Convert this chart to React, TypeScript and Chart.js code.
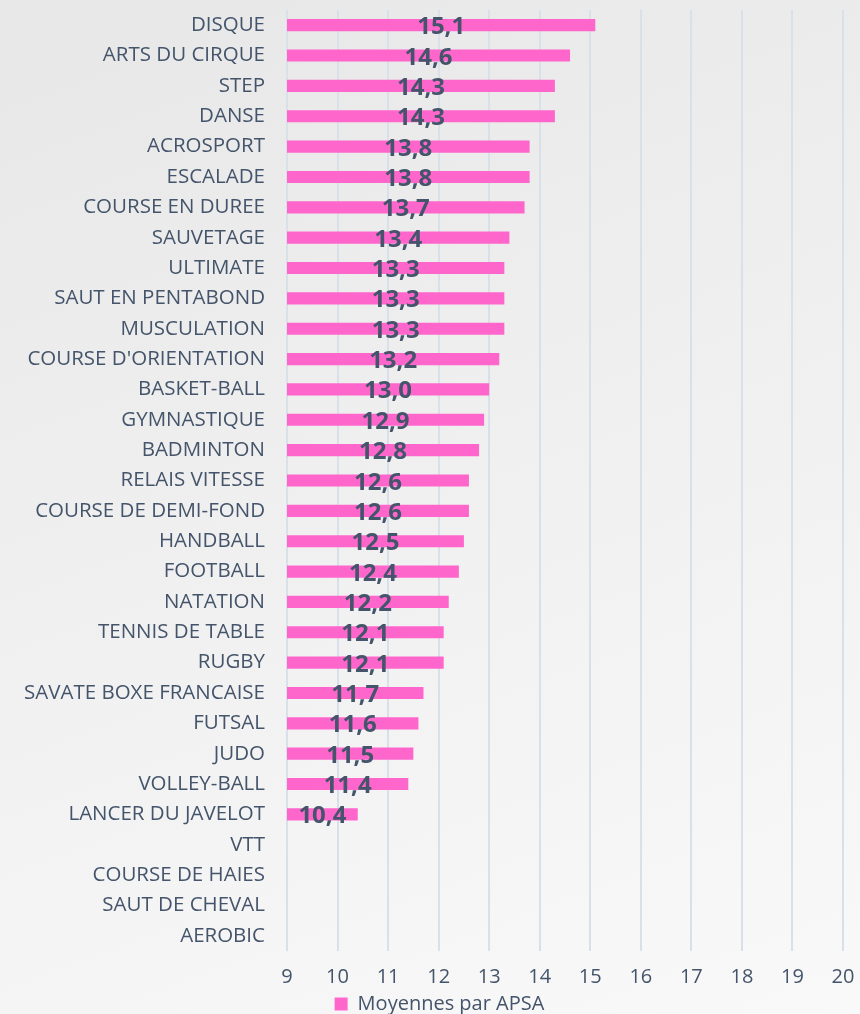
import React, { useEffect, useRef } from "react";
import { Chart, registerables } from "chart.js";

Chart.register(...registerables);

const categories: string[] = [
  "DISQUE", "ARTS DU CIRQUE", "STEP", "DANSE", "ACROSPORT", "ESCALADE",
  "COURSE EN DUREE", "SAUVETAGE", "ULTIMATE", "SAUT EN PENTABOND", "MUSCULATION",
  "COURSE D'ORIENTATION", "BASKET-BALL", "GYMNASTIQUE", "BADMINTON", "RELAIS VITESSE",
  "COURSE DE DEMI-FOND", "HANDBALL", "FOOTBALL", "NATATION", "TENNIS DE TABLE",
  "RUGBY", "SAVATE BOXE FRANCAISE", "FUTSAL", "JUDO", "VOLLEY-BALL",
  "LANCER DU JAVELOT", "VTT", "COURSE DE HAIES", "SAUT DE CHEVAL", "AEROBIC",
];

const moyennes: (number | null)[] = [
  15.1, 14.6, 14.3, 14.3, 13.8, 13.8, 13.7, 13.4, 13.3, 13.3, 13.3,
  13.2, 13.0, 12.9, 12.8, 12.6, 12.6, 12.5, 12.4, 12.2, 12.1,
  12.1, 11.7, 11.6, 11.5, 11.4, 10.4, null, null, null, null,
];

const seriesLabel = "Moyennes par APSA";
const xMin = 9;
const xMax = 20;

const TEXT = "#44546A";
const FONT = "'Open Sans', sans-serif";

const valueLabels = {
  id: "valueLabels",
  afterDatasetsDraw(chart: any) {
    const ctx = chart.ctx;
    const meta = chart.getDatasetMeta(0);
    const left = chart.scales.x.getPixelForValue(xMin);
    ctx.save();
    ctx.font = `bold 24px ${FONT}`;
    ctx.fillStyle = TEXT;
    ctx.textAlign = "center";
    ctx.textBaseline = "alphabetic";
    meta.data.forEach((el: any, i: number) => {
      const v = moyennes[i];
      if (v === null || v === undefined) return;
      const p = el.getProps(["x", "y"], true);
      ctx.fillText(v.toFixed(1).replace(".", ","), (p.x + left) / 2, p.y + 9);
    });
    ctx.restore();
  },
};

const legendShift = {
  id: "legendShift",
  afterLayout(chart: any) {
    const l = chart.legend;
    if (l) {
      l.left += 18;
      l.right += 18;
    }
  },
};

export default function App() {
  const ref = useRef<HTMLCanvasElement | null>(null);
  useEffect(() => {
    if (!ref.current) return;
    const chart = new Chart(ref.current, {
      type: "bar",
      data: {
        labels: categories,
        datasets: [
          {
            label: seriesLabel,
            data: moyennes,
            backgroundColor: "#FF66CC",
            borderWidth: 0,
            barPercentage: 0.4,
            categoryPercentage: 1,
          },
        ],
      },
      options: {
        indexAxis: "y",
        responsive: false,
        animation: false,
        maintainAspectRatio: false,
        layout: { padding: { top: 10, right: 17, left: 0, bottom: -10 } },
        scales: {
          x: {
            min: xMin,
            max: xMax,
            ticks: {
              stepSize: 1,
              color: TEXT,
              font: { family: FONT, size: 20 },
              padding: 14,
            },
            grid: { color: "#D9E0EA", lineWidth: 2, drawTicks: false },
            border: { display: false },
            afterFit(scale: any) {
              scale.paddingRight = 0;
              scale.paddingLeft = 0;
              scale.height = scale.height - 11;
            },
          },
          y: {
            ticks: {
              color: TEXT,
              font: { family: FONT, size: 20.5 },
              padding: 22,
              autoSkip: false,
            },
            grid: { display: false, drawTicks: false },
            border: { display: false },
            afterFit(scale: any) {
              scale.width = 287;
              scale.paddingTop = 0;
              scale.paddingBottom = 0;
            },
          },
        },
        plugins: {
          legend: {
            position: "bottom",
            labels: {
              color: TEXT,
              font: { family: FONT, size: 20 },
              boxWidth: 13,
              boxHeight: 13,
              padding: 2,
            },
          },
          tooltip: { enabled: false },
        },
      },
      plugins: [valueLabels, legendShift],
    });
    return () => chart.destroy();
  }, []);
  return (
    <div
      style={{
        position: "fixed",
        left: 0,
        top: 0,
        width: 860,
        height: 1014,
        background: "linear-gradient(160deg, #e7e7e7 0%, #f2f2f2 60%, #f9f9f9 100%)",
      }}
    >
      <canvas ref={ref} width={860} height={1014} />
    </div>
  );
}
